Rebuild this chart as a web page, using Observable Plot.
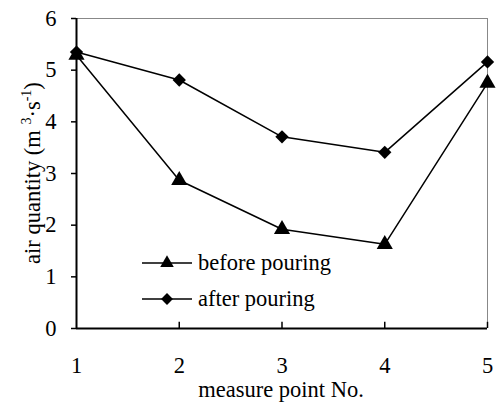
<!DOCTYPE html>
<html>
<head>
<meta charset="utf-8">
<script src="https://cdn.jsdelivr.net/npm/d3@7"></script>
<script src="https://cdn.jsdelivr.net/npm/@observablehq/plot@0.6"></script>
<style>
  html, body { margin: 0; padding: 0; background: #fff; }
  svg, svg text, svg tspan { font-family: "Liberation Serif", "DejaVu Serif", serif !important; }
</style>
</head>
<body>
<div id="chart"></div>
<script>
const points = [1, 2, 3, 4, 5];
const beforePouring = [5.29, 2.87, 1.92, 1.63, 4.75];
const afterPouring = [5.35, 4.81, 3.71, 3.41, 5.16];
const seriesNames = ["before pouring", "after pouring"];
const seriesSymbols = ["triangle", "diamond2"];
const xTicks = [1, 2, 3, 4, 5];
const yTicks = [0, 1, 2, 3, 4, 5, 6];

const data = [];
points.forEach((p, i) => {
  data.push({x: p, y: beforePouring[i], s: seriesNames[0]});
  data.push({x: p, y: afterPouring[i], s: seriesNames[1]});
});

const W = 498, H = 402;
const mL = 76, mR = 11, mT = 18, mB = 74;
const FONT = "'Liberation Serif', 'DejaVu Serif', serif";
const FS = 22.5;

const chart = Plot.plot({
  width: W, height: H,
  marginLeft: mL, marginRight: mR, marginTop: mT, marginBottom: mB,
  style: {fontFamily: FONT, fontSize: FS + "px", color: "#000", background: "#fff"},
  x: {domain: [1, 5]},
  y: {domain: [0, 6]},
  symbol: {domain: seriesNames, range: seriesSymbols},
  marks: [
    Plot.ruleY([6], {stroke: "#888", strokeWidth: 1}),
    Plot.ruleX([5], {stroke: "#888", strokeWidth: 1}),
    Plot.ruleX(xTicks.slice(1), {y1: 0, y2: 0.12, stroke: "#000", strokeWidth: 1.5}),
    Plot.axisY({ticks: yTicks, tickSize: 5, tickPadding: 15, tickFormat: d => String(d), label: null, strokeWidth: 1.5}),
    Plot.axisX({ticks: xTicks, tickSize: 0, tickPadding: 29, tickFormat: d => String(d), label: null}),
    Plot.ruleX([1], {stroke: "#000", strokeWidth: 2}),
    Plot.ruleY([0], {stroke: "#000", strokeWidth: 2}),
    Plot.line(data, {x: "x", y: "y", z: "s", stroke: "#000", strokeWidth: 1.5}),
    Plot.dot(data, {x: "x", y: "y", symbol: "s", fill: "#000", stroke: "none", r: 6})
  ]
});

const svg = d3.select(chart);
svg.style("font-family", FONT);
// x axis title
svg.append("text")
  .attr("x", 281).attr("y", 397)
  .attr("text-anchor", "middle")
  .attr("fill", "#000")
  .attr("font-size", FS)
  .style("font-family", FONT)
  .text("measure point No.");

// y axis title with superscripts
const yt = svg.append("text")
  .attr("transform", "translate(40,173) rotate(-90)")
  .attr("text-anchor", "middle")
  .attr("fill", "#000")
  .attr("font-size", FS)
  .style("font-family", FONT);
yt.append("tspan").text("air quantity (m ");
yt.append("tspan").attr("font-size", 14).attr("dy", -9).text("3");
yt.append("tspan").attr("dy", 9).text("·s");
yt.append("tspan").attr("font-size", 14).attr("dy", -9).text("-1");
yt.append("tspan").attr("dy", 9).text(")");

// legend
const legendY = [263, 299];
seriesNames.forEach((name, i) => {
  const g = svg.append("g").attr("transform", `translate(142,${legendY[i]})`);
  g.append("line").attr("x1", 0).attr("x2", 50).attr("y1", 0).attr("y2", 0)
    .attr("stroke", "#000").attr("stroke-width", 1.5);
  g.append("path")
    .attr("transform", "translate(25,0)")
    .attr("d", d3.symbol(i === 0 ? d3.symbolTriangle : d3.symbolDiamond2, i === 0 ? 80 : 90)())
    .attr("fill", "#000");
  g.append("text").attr("x", 56).attr("y", 0).attr("dy", "0.32em")
    .attr("text-anchor", "start")
    .style("font-family", FONT)
    .attr("fill", "#000").attr("font-size", FS).text(name);
});

document.getElementById("chart").appendChild(chart);
</script>
</body>
</html>
